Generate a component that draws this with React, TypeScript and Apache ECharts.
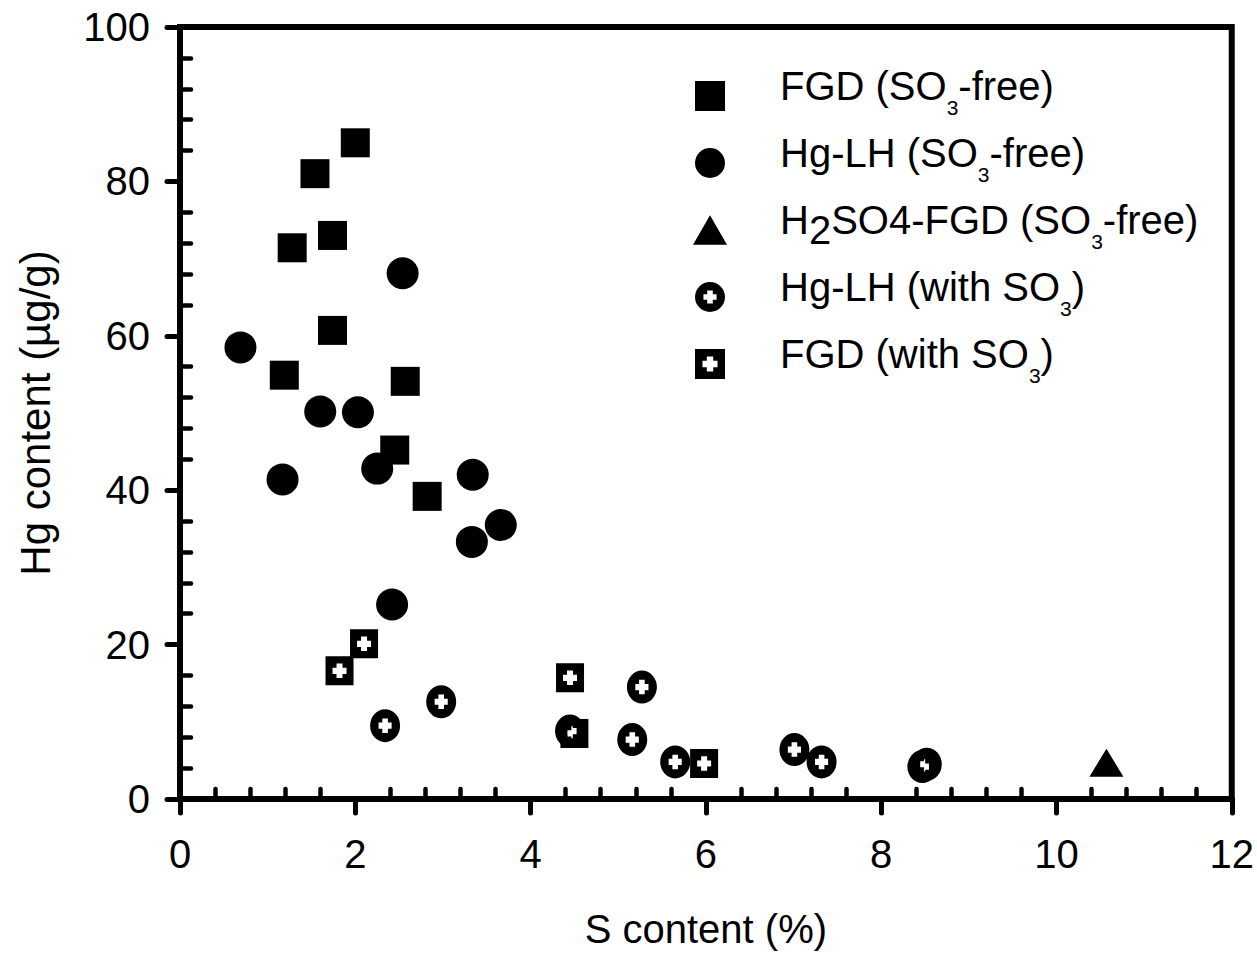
import React, { useEffect, useRef } from "react";
import * as echarts from "echarts";

// ---- data ----
const fgdFree: number[][] = [
  [2.0, 85.0], [1.54, 81.0], [1.28, 71.4], [1.74, 73.0], [1.74, 60.7],
  [1.19, 54.9], [2.57, 54.1], [2.45, 45.2], [2.82, 39.2],
];
const hgLhFree: number[][] = [
  [2.54, 68.1], [0.69, 58.5], [1.6, 50.2], [2.03, 50.1], [1.17, 41.4],
  [2.25, 42.8], [3.34, 42.0], [3.33, 33.3], [3.66, 35.5], [2.42, 25.2],
];
const h2so4Free: number[][] = [[10.57, 4.7]];
const hgLhWith: number[][] = [
  [2.34, 9.5], [2.98, 12.6], [4.45, 8.8], [5.27, 14.5], [5.16, 7.7],
  [5.65, 4.8], [7.01, 6.4], [7.32, 4.8], [8.47, 4.2], [8.52, 4.5],
];
const fgdWith: number[][] = [
  [1.82, 16.6], [2.1, 20.1], [4.45, 15.7], [4.5, 8.5], [5.98, 4.6],
];

const seriesNames = [
  "FGD (SO3-free)",
  "Hg-LH (SO3-free)",
  "H2SO4-FGD (SO3-free)",
  "Hg-LH (with SO3)",
  "FGD (with SO3)",
];
const legendRich: Record<string, string> = {
  "FGD (SO3-free)": "{g| }{t|FGD (SO}{s|3}{t|-free)}",
  "Hg-LH (SO3-free)": "{g| }{t|Hg-LH (SO}{s|3}{t|-free)}",
  "H2SO4-FGD (SO3-free)": "{g| }{t|H}{h|2}{t|SO4-FGD (SO}{s|3}{t|-free)}",
  "Hg-LH (with SO3)": "{g| }{t|Hg-LH (with SO}{s|3}{t|)}",
  "FGD (with SO3)": "{g| }{t|FGD (with SO}{s|3}{t|)}",
};

const xTitle = "S content (%)";
const yTitle = "Hg content (\u00b5g/g)";

// ---- symbols ----
const SQUARE = "path://M0 0L10 0L10 10L0 10Z";
const CIRCLE = "path://M0 -10A10 10 0 1 1 0 10A10 10 0 1 1 0 -10Z";
const TRIANGLE = "path://M0 -10L11.5 10L-11.5 10Z";
const CIRCLE_PLUS =
  "path://M0 -16A16 16 0 1 1 0 16A16 16 0 1 1 0 -16Z M-3 -7L-3 -3L-7 -3L-7 3L-3 3L-3 7L3 7L3 3L7 3L7 -3L3 -3L3 -7Z";
const SQUARE_PLUS =
  "path://M-14 -14L14 -14L14 14L-14 14Z M-3 -7L-3 -3L-7 -3L-7 3L-3 3L-3 7L3 7L3 3L7 3L7 -3L3 -3L3 -7Z";

const FONT = "Liberation Sans";

export default function App() {
  const ref = useRef<HTMLDivElement>(null);
  useEffect(() => {
    if (!ref.current) return;
    const chart = echarts.init(ref.current, undefined, { renderer: "svg" });
    const black = "#000";
    const mkSeries = (name: string, data: number[][], symbol: string, size: any, z: number) => ({
      type: "scatter",
      name,
      data,
      symbol,
      symbolSize: size,
      z,
      itemStyle: { color: black, opacity: 1 },
      emphasis: { disabled: true },
    });
    chart.setOption({
      animation: false,
      backgroundColor: "#fff",
      textStyle: { fontFamily: FONT, color: black },
      grid: {
        left: 180, right: 19, top: 27, bottom: 153,
        show: true, borderColor: black, borderWidth: 6,
      },
      legend: {
        orient: "vertical",
        left: 693,
        top: 66,
        padding: 0,
        itemGap: 15,
        itemWidth: 34,
        itemHeight: 30,
        selectedMode: false,
        data: seriesNames,
        formatter: (n: string) => legendRich[n] || n,
        textStyle: {
          fontFamily: FONT,
          color: black,
          fontSize: 40,
          rich: {
            g: { width: 48, lineHeight: 60, fontSize: 40, fontFamily: FONT },
            t: { fontSize: 40, lineHeight: 48, verticalAlign: "top", fontFamily: FONT, color: black },
            h: { fontSize: 40, lineHeight: 40, verticalAlign: "middle", fontFamily: FONT, color: black },
            s: { fontSize: 21, verticalAlign: "bottom", padding: [0, 0, 8, 0], fontFamily: FONT, color: black },
          },
        },
      },
      xAxis: [
        {
          type: "value", min: 0, max: 12, interval: 2, position: "bottom",
          name: xTitle, nameLocation: "middle", nameGap: 110,
          nameTextStyle: { fontSize: 40, fontFamily: FONT, color: black },
          axisLine: { onZero: false, lineStyle: { color: black, width: 6 } },
          axisTick: { show: true, inside: false, length: 14, lineStyle: { color: black, width: 5, cap: "round" } },
          axisLabel: { fontSize: 40, fontFamily: FONT, color: black, margin: 35 },
          splitLine: { show: false },
        },
        {
          type: "value", min: 0, max: 12, interval: 2, position: "bottom",
          axisLine: { show: false, onZero: false },
          axisTick: { show: false, inside: true },
          axisLabel: { show: false },
          minorTick: { show: true, splitNumber: 5, length: 10, lineStyle: { color: black, width: 4.5, cap: "round" } },
          splitLine: { show: false },
        },
      ],
      yAxis: [
        {
          type: "value", min: 0, max: 100, interval: 20, position: "left",
          name: yTitle, nameLocation: "middle", nameGap: 124,
          nameTextStyle: { fontSize: 42, fontFamily: FONT, color: black },
          axisLine: { onZero: false, lineStyle: { color: black, width: 6 } },
          axisTick: { show: true, inside: false, length: 13, lineStyle: { color: black, width: 5, cap: "round" } },
          axisLabel: { fontSize: 40, fontFamily: FONT, color: black, margin: 30 },
          splitLine: { show: false },
        },
        {
          type: "value", min: 0, max: 100, interval: 20, position: "left",
          axisLine: { show: false, onZero: false },
          axisTick: { show: false, inside: true },
          axisLabel: { show: false },
          minorTick: { show: true, splitNumber: 5, length: 11, lineStyle: { color: black, width: 4.5, cap: "round" } },
          splitLine: { show: false },
        },
      ],
      series: [
        mkSeries(seriesNames[0], fgdFree, SQUARE, [29, 29], 3),
        mkSeries(seriesNames[1], hgLhFree, CIRCLE, [32, 32], 3),
        mkSeries(seriesNames[2], h2so4Free, TRIANGLE, [34, 28], 3),
        mkSeries(seriesNames[3], hgLhWith, CIRCLE_PLUS, [30, 33], 5),
        mkSeries(seriesNames[4], fgdWith, SQUARE_PLUS, [28, 29], 3),
      ],
    });
    return () => chart.dispose();
  }, []);
  return (
    <div
      ref={ref}
      style={{ position: "fixed", left: 0, top: 0, width: 1257, height: 954, background: "#fff" }}
    />
  );
}
